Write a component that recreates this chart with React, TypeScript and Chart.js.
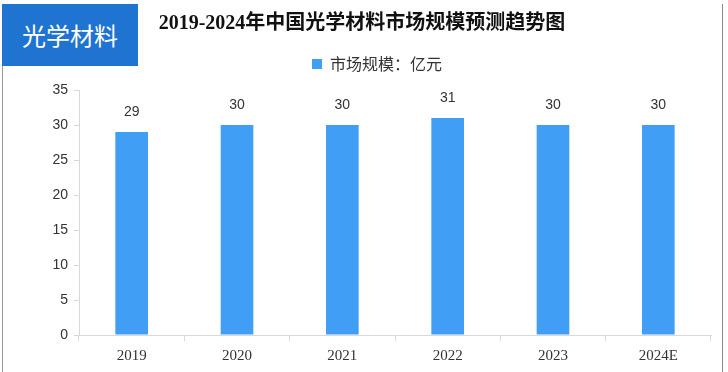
import React, { useEffect, useRef } from "react";
import { Chart, registerables } from "chart.js";

Chart.register(...registerables);

const categories = ["2019", "2020", "2021", "2022", "2023", "2024E"];
const marketSize = [29, 30, 30, 31, 30, 30];
const seriesLabel = "市场规模：亿元";
const chartTitle = "2019-2024年中国光学材料市场规模预测趋势图";
const badgeText = "光学材料";
const yMin = 0;
const yMax = 35;
const yStep = 5;

const valueLabelPlugin = {
  id: "valueLabels",
  afterDatasetsDraw(chart: any) {
    const ctx = chart.ctx;
    const meta = chart.getDatasetMeta(0);
    const data = chart.data.datasets[0].data;
    ctx.save();
    ctx.font = "14px 'Liberation Sans', Arial, sans-serif";
    ctx.fillStyle = "#333333";
    ctx.textAlign = "center";
    ctx.textBaseline = "middle";
    meta.data.forEach((bar: any, i: number) => {
      ctx.fillText(String(data[i]), bar.x, bar.y - 20);
    });
    ctx.restore();
  },
};

export default function App() {
  const canvasRef = useRef<HTMLCanvasElement | null>(null);

  useEffect(() => {
    if (!canvasRef.current) return;
    const chart = new Chart(canvasRef.current, {
      type: "bar",
      data: {
        labels: categories,
        datasets: [
          {
            label: seriesLabel,
            data: marketSize,
            backgroundColor: "#409ef5",
            borderWidth: 0,
            categoryPercentage: 1,
            barPercentage: 0.31,
          },
        ],
      },
      options: {
        animation: false,
        responsive: false,
        maintainAspectRatio: false,
        layout: { padding: { top: 38, left: 43, right: 17, bottom: 0 } },
        plugins: {
          // empty spacer placed below the legend (lower weight than legend)
          title: {
            display: true,
            text: " ",
            weight: 500,
            position: "top",
            padding: 0,
            font: { size: 8, lineHeight: 1 },
          },
          tooltip: { enabled: false },
          legend: {
            display: true,
            position: "top",
            labels: {
              boxWidth: 10,
              boxHeight: 10,
              padding: 18,
              color: "#333333",
              font: { size: 16, family: "'Noto Sans CJK SC', sans-serif" },
            },
          },
        },
        scales: {
          x: {
            grid: {
              display: true,
              drawOnChartArea: false,
              drawTicks: true,
              tickLength: 6,
              color: "#d9d9d9",
              offset: true,
            },
            border: { display: true, color: "#d9d9d9" },
            ticks: {
              color: "#333333",
              padding: 6,
              font: { size: 15, family: "'Liberation Serif', serif" },
            },
            afterFit(scale: any) {
              scale.height = 37;
            },
          },
          y: {
            min: yMin,
            max: yMax,
            ticks: {
              stepSize: yStep,
              color: "#333333",
              padding: 6,
              font: { size: 14, family: "'Liberation Sans', Arial, sans-serif" },
            },
            grid: {
              display: true,
              drawOnChartArea: false,
              drawTicks: true,
              tickLength: 5,
              color: "#d9d9d9",
            },
            border: { display: true, color: "#d9d9d9" },
            afterFit(scale: any) {
              scale.width = 36;
            },
          },
        },
      },
      plugins: [valueLabelPlugin],
    });
    return () => chart.destroy();
  }, []);

  return (
    <div
      style={{
        position: "fixed",
        left: 0,
        top: 0,
        width: 728,
        height: 372,
        background: "#ffffff",
        overflow: "hidden",
      }}
    >
      <div
        style={{
          position: "absolute",
          left: 2,
          top: 4,
          width: 719,
          height: 380,
          borderLeft: "1px solid #999999",
          borderRight: "1px solid #8c8c8c",
        }}
      />
      <canvas
        ref={canvasRef}
        width={728}
        height={372}
        style={{ position: "absolute", left: 0, top: 0, width: 728, height: 372 }}
      />
      <div
        style={{
          position: "absolute",
          left: 2,
          top: 4,
          width: 136,
          height: 62,
          background: "#1f74d1",
          color: "#ffffff",
          fontFamily: "'Noto Sans CJK SC', sans-serif",
          fontSize: 24,
          lineHeight: "62px",
          textAlign: "center",
        }}
      >
        {badgeText}
      </div>
      <div
        style={{
          position: "absolute",
          left: 112,
          top: 8,
          width: 500,
          textAlign: "center",
          fontFamily: "'Liberation Serif', 'Noto Sans CJK SC', serif",
          fontWeight: "bold",
          fontSize: 20,
          lineHeight: "28px",
          color: "#111111",
          whiteSpace: "nowrap",
        }}
      >
        {chartTitle}
      </div>
    </div>
  );
}
